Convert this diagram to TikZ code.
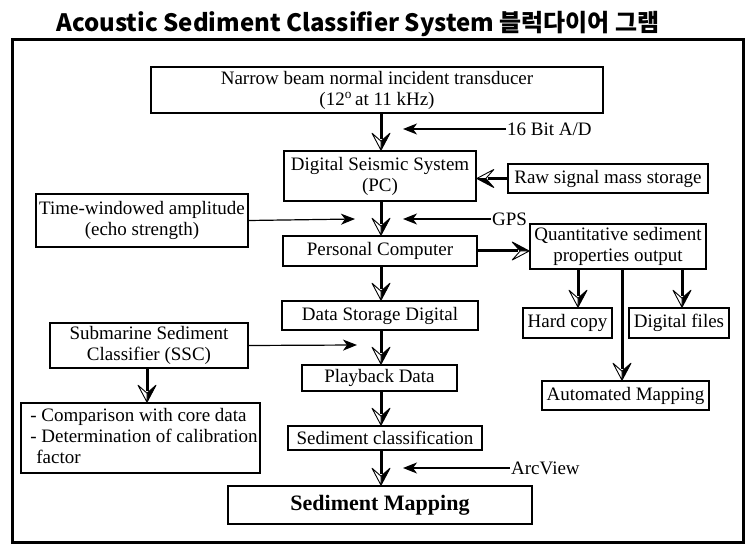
\documentclass[tikz,border=0pt]{standalone}
\usepackage{fontspec}
\usepackage{graphicx}
\setmainfont{Liberation Serif}
\newfontfamily\krfont{Noto Sans CJK KR}
\usetikzlibrary{arrows.meta}

\pgfdeclarearrow{
  name = HalfOpen,
  setup code = {
    \pgfarrowssettipend{0pt}
    \pgfarrowssetlineend{-11pt}
    \pgfarrowshullpoint{0pt}{0pt}
    \pgfarrowshullpoint{-17pt}{9pt}
    \pgfarrowshullpoint{-17pt}{-9pt}
  },
  drawing code = {
    \pgfsetlinewidth{0.9pt}
    \pgfsetroundjoin
    \pgfsetstrokecolor{black}
    \pgfsetfillcolor{black}
    \pgfpathmoveto{\pgfqpoint{0pt}{0pt}}
    \pgfpathlineto{\pgfqpoint{-17pt}{9pt}}
    \pgfpathlineto{\pgfqpoint{-9pt}{0pt}}
    \pgfpathclose
    \pgfusepathqfillstroke
    \pgfsetfillcolor{white}
    \pgfpathmoveto{\pgfqpoint{0pt}{0pt}}
    \pgfpathlineto{\pgfqpoint{-17pt}{-9pt}}
    \pgfpathlineto{\pgfqpoint{-9pt}{0pt}}
    \pgfpathclose
    \pgfusepathqfillstroke
  }
}

\tikzset{
  box/.style={draw, line width=1.6pt, inner sep=0pt, align=center,
    font=\fontsize{19}{21}\selectfont},
  lbl/.style={inner sep=1pt, font=\fontsize{19}{21}\selectfont},
  thick arrow/.style={line width=3pt, -{HalfOpen}},
  thin arrow/.style={line width=1.2pt, -{Stealth[length=14pt,width=11pt,inset=4pt]}},
}

\begin{document}
\begin{tikzpicture}[x=1pt,y=-1pt]
\useasboundingbox (0,0) rectangle (753,553);

% title
\node (title) at (358,24) {\resizebox{603pt}{!}{\krfont\bfseries Acoustic Sediment Classifier System 블럭다이어 그램}};

% frame
\draw[line width=3pt] (12,40) rectangle (743,542);

% nodes
\node[box, minimum width=452pt, minimum height=46pt] (trans) at (377,90)
  {Narrow beam normal incident transducer\\(12\textsuperscript{o}\,at 11 kHz)};
\node[box, minimum width=192pt, minimum height=50pt] (dss) at (380,176)
  {Digital Seismic System\\(PC)};
\node[box, minimum width=200pt, minimum height=29pt] (raw) at (608,178.5)
  {Raw signal mass storage};
\node[box, minimum width=212pt, minimum height=53pt] (tw) at (142,220.5)
  {Time-windowed amplitude\\(echo strength)};
\node[box, minimum width=194pt, minimum height=30pt] (pc) at (380,251)
  {Personal Computer};
\node[box, minimum width=176pt, minimum height=45pt] (quant) at (618,246.5)
  {Quantitative sediment\\properties output};
\node[box, minimum width=196pt, minimum height=29pt] (dsd) at (380,315.5)
  {Data Storage Digital};
\node[box, minimum width=89pt, minimum height=30pt] (hc) at (567.5,323)
  {Hard copy};
\node[box, minimum width=100pt, minimum height=30pt] (df) at (679,323)
  {Digital files};
\node[box, minimum width=198pt, minimum height=45pt] (ssc) at (149,345.5)
  {Submarine Sediment\\Classifier (SSC)};
\node[box, minimum width=155pt, minimum height=26pt] (pb) at (379.5,378)
  {Playback Data};
\node[box, minimum width=167pt, minimum height=29pt] (am) at (625.5,395.5)
  {Automated Mapping};
\node[box, minimum width=239pt, minimum height=70pt] (cmp) at (140.5,438)
  {\begin{tabular}{@{\hspace{7pt}}l@{}}- Comparison with core data\\- Determination of calibration\\\hspace{6pt}factor\end{tabular}};
\node[box, minimum width=194pt, minimum height=24pt] (sc) at (385,438)
  {Sediment classification};
\node[box, minimum width=304pt, minimum height=38pt,
  font=\fontsize{22}{24}\selectfont\bfseries] (sm) at (380,505)
  {Sediment Mapping};

% side labels
\node[lbl, anchor=west] (adc) at (506,129) {16 Bit A/D};
\node[lbl, anchor=west] (gps) at (491,219) {GPS};
\node[lbl, anchor=west] (arc) at (510,468) {ArcView};

% helper coordinates
\coordinate (col) at (381,0);
\coordinate (sscx) at (147,0);
\coordinate (hcx) at (578,0);
\coordinate (amx) at (622,0);
\coordinate (dfx) at (682,0);
\coordinate (adtip) at (403,129);
\coordinate (gpstip) at (403,219);
\coordinate (twtip) at (355,219);
\coordinate (ssctip) at (357,345);
\coordinate (arctip) at (403,468);

% main column
\draw[thick arrow] (trans.south -| col) -- (dss.north -| col);
\draw[thick arrow] (dss.south -| col) -- (pc.north -| col);
\draw[thick arrow] (pc.south -| col) -- (dsd.north -| col);
\draw[thick arrow] (dsd.south -| col) -- (pb.north -| col);
\draw[thick arrow] (pb.south -| col) -- (sc.north -| col);
\draw[thick arrow] (sc.south -| col) -- (sm.north -| col);

% side thick arrows
\draw[thick arrow] (raw.west) -- (raw.west -| dss.east);
\draw[thick arrow] (pc.east) -- (pc.east -| quant.west);
\draw[thick arrow] (ssc.south -| sscx) -- (cmp.north -| sscx);
\draw[thick arrow] (quant.south -| hcx) -- (hc.north -| hcx);
\draw[thick arrow] (quant.south -| dfx) -- (df.north -| dfx);
\draw[thick arrow] (quant.south -| amx) -- (am.north -| amx);

% thin arrows
\draw[thin arrow] (adc.west) -- (adtip);
\draw[thin arrow] (gps.west) -- (gpstip);
\draw[thin arrow] (arc.west) -- (arctip);
\draw[thin arrow] (tw.east) -- (twtip);
\draw[thin arrow] (ssc.east) -- (ssctip);
\end{tikzpicture}
\end{document}
